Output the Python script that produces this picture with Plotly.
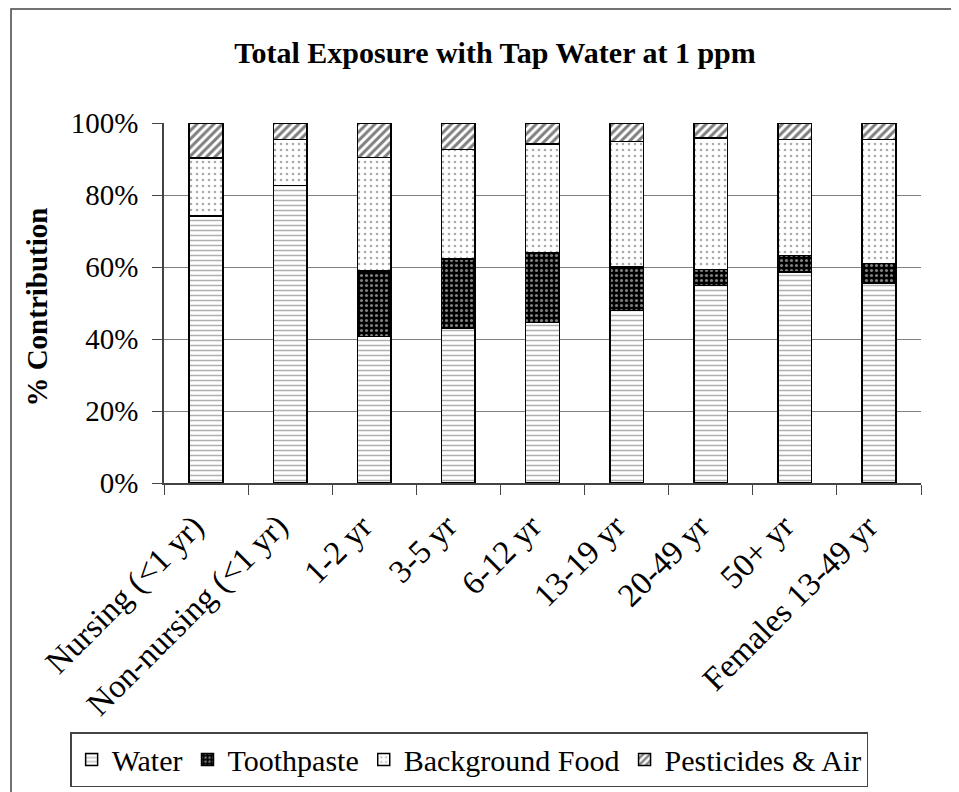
import plotly.graph_objects as go

groups = ['Nursing (<1 yr)', 'Non-nursing (<1 yr)', '1-2 yr', '3-5 yr', '6-12 yr',
          '13-19 yr', '20-49 yr', '50+ yr', 'Females 13-49 yr']
water = [74.2, 82.7, 40.7, 42.9, 44.6, 47.9, 54.8, 58.6, 55.4]
toothpaste = [0, 0, 18.2, 19.3, 19.3, 12.1, 4.5, 4.6, 5.6]
background_food = [16.1, 12.7, 31.5, 30.4, 30.3, 34.9, 36.5, 32.2, 34.4]
pesticides_air = [9.7, 4.6, 9.6, 7.4, 5.8, 5.1, 4.2, 4.6, 4.6]
y_ticks = [0, 20, 40, 60, 80, 100]
y_labels = ['0%', '20%', '40%', '60%', '80%', '100%']

serif = 'Liberation Serif'

series = [
    ('Water', water, dict(shape='-', fgcolor='#606060', bgcolor='white', size=5, solidity=0.3)),
    ('Toothpaste', toothpaste, dict(shape='.', fgcolor='white', bgcolor='black', size=5, solidity=0.3)),
    ('Background Food', background_food, dict(shape='.', fgcolor='#555555', bgcolor='white', size=6, solidity=0.15)),
    ('Pesticides & Air', pesticides_air, dict(shape='/', fgcolor='black', bgcolor='white', size=6, solidity=0.5)),
]

fig = go.Figure()
for name, vals, pat in series:
    fig.add_trace(go.Bar(
        x=groups, y=vals, name=name, width=0.4,
        marker=dict(color='white', pattern=pat, line=dict(color='black', width=1.5)),
    ))

# outer chart frame (page has an 8px body margin, figure is drawn from there)
fig.add_shape(type='rect', xref='paper', yref='paper',
              x0=-0.2021, x1=1.0423, y0=-0.87, y1=1.3167,
              line=dict(color='#444444', width=1.5), fillcolor='rgba(0,0,0,0)')

fig.add_annotation(text='<b>% Contribution</b>', xref='paper', yref='paper',
                   x=-0.1678, y=0.49, xanchor='center', yanchor='middle',
                   textangle=-90, showarrow=False,
                   font=dict(family=serif, size=29, color='black'))

# rotated category labels, right end placed under each category (x = category index)
for i, g in enumerate(groups):
    fig.add_annotation(text=g, x=i, xref='x', y=-0.062, yref='paper',
                       xanchor='right', yanchor='top', xshift=8,
                       textangle=-45, showarrow=False,
                       font=dict(family=serif, size=33, color='black'))

fig.update_layout(
    width=951, height=784,
    margin=dict(l=156, r=38, t=115, b=309, autoexpand=False),
    barmode='stack', bargap=0.6,
    plot_bgcolor='white', paper_bgcolor='white',
    font=dict(family=serif, color='black'),
    title=dict(text='<b>Total Exposure with Tap Water at 1 ppm</b>',
               font=dict(family=serif, size=30, color='black'),
               x=487 / 951, xanchor='center', y=1 - 44 / 784, yanchor='middle'),
    showlegend=True,
    legend=dict(orientation='h', x=-0.124, y=-0.692, xanchor='left', yanchor='top',
                traceorder='normal', font=dict(family=serif, size=30, color='black'),
                bordercolor='#444444', borderwidth=1.5, bgcolor='white',
                itemwidth=30, tracegroupgap=0),
)

fig.update_xaxes(
    type='category', categoryorder='array', categoryarray=groups,
    range=[-0.5, len(groups) - 0.5], showticklabels=False,
    showline=True, linecolor='#444444', linewidth=1.5,
    ticks='outside', tickson='boundaries', ticklen=10, tickcolor='#444444',
    showgrid=False, automargin=False,
)
fig.update_yaxes(
    range=[0, 100], tickvals=y_ticks, ticktext=y_labels,
    tickfont=dict(family=serif, size=29, color='black'),
    showline=True, linecolor='#444444', linewidth=1.5,
    ticks='outside', ticklen=10, tickcolor='#444444', ticklabelstandoff=8,
    showgrid=True, gridcolor='#808080', gridwidth=1.2, automargin=False,
)

fig.write_html('out.html')
